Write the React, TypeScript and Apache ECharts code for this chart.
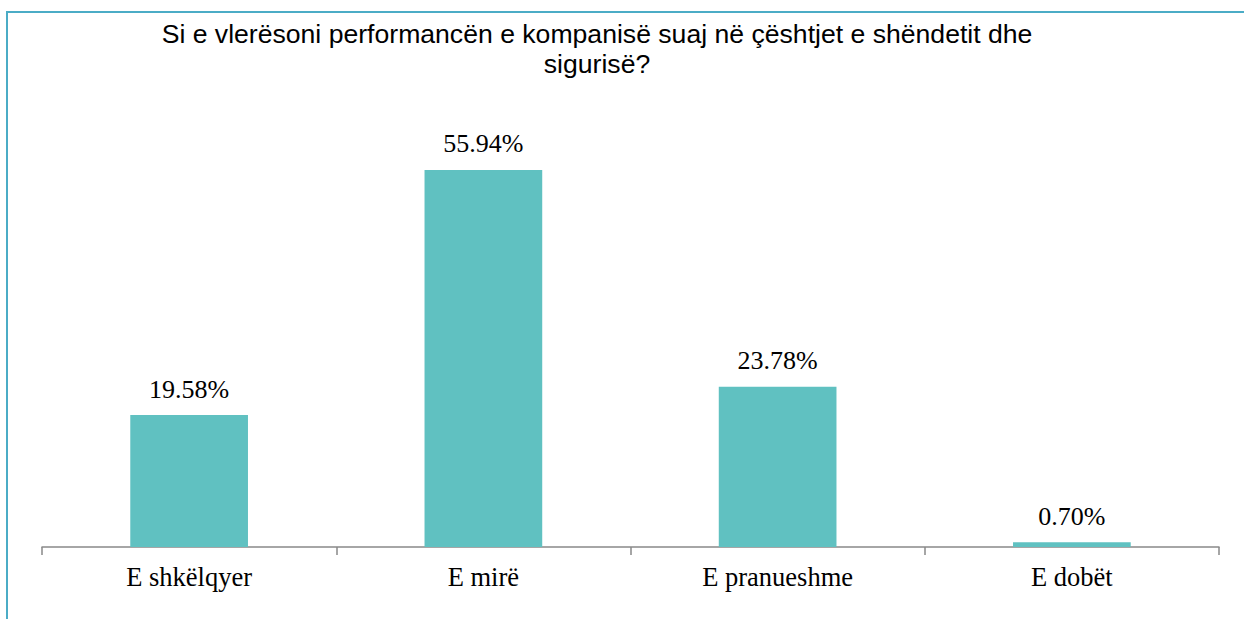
import React, { useEffect, useRef } from "react";
import * as echarts from "echarts";

const titleLines = [
  "Si e vlerësoni performancën e kompanisë suaj në çështjet e shëndetit dhe",
  "sigurisë?",
];
const categories = ["E shkëlqyer", "E mirë", "E pranueshme", "E dobët"];
const values = [19.58, 55.94, 23.78, 0.7];

export default function App() {
  const ref = useRef<HTMLDivElement>(null);
  useEffect(() => {
    document.body.style.margin = "0";
    const chart = echarts.init(ref.current!, null, { renderer: "svg" });
    chart.setOption({
      animation: false,
      backgroundColor: "#ffffff",
      graphic: [
        {
          type: "rect",
          shape: { x: 7, y: 12, width: 1400, height: 800 },
          style: { fill: "none", stroke: "#4BACC6", lineWidth: 2 },
          silent: true,
        },
      ],
      title: {
        text: titleLines.join("\n"),
        left: 592,
        top: 14,
        textAlign: "center",
        textStyle: {
          fontFamily: "Liberation Sans, Arial, sans-serif",
          fontSize: 26.6,
          fontWeight: "normal",
          color: "#000000",
          lineHeight: 30,
        },
      },
      grid: { left: 42, right: 25, top: 142.6, bottom: 72 },
      xAxis: {
        type: "category",
        data: categories,
        boundaryGap: true,
        axisLine: { lineStyle: { color: "#898989", width: 1.5 } },
        axisTick: { show: true, length: 8, alignWithLabel: false, lineStyle: { color: "#898989", width: 1.5 } },
        axisLabel: {
          margin: 16,
          fontFamily: "Liberation Serif, Times New Roman, serif",
          fontSize: 26.5,
          color: "#000000",
        },
      },
      yAxis: {
        type: "value",
        min: 0,
        max: 60,
        show: false,
        splitLine: { show: false },
      },
      series: [
        {
          type: "bar",
          data: values,
          barWidth: "40%",
          itemStyle: { color: "#60C1C1" },
          label: {
            show: true,
            position: "top",
            distance: 13,
            formatter: (p: any) => p.value.toFixed(2) + "%",
            fontFamily: "Liberation Serif, Times New Roman, serif",
            fontSize: 26,
            color: "#000000",
          },
        },
      ],
    });
    return () => chart.dispose();
  }, []);
  return <div ref={ref} style={{ width: 1244, height: 619 }} />;
}
